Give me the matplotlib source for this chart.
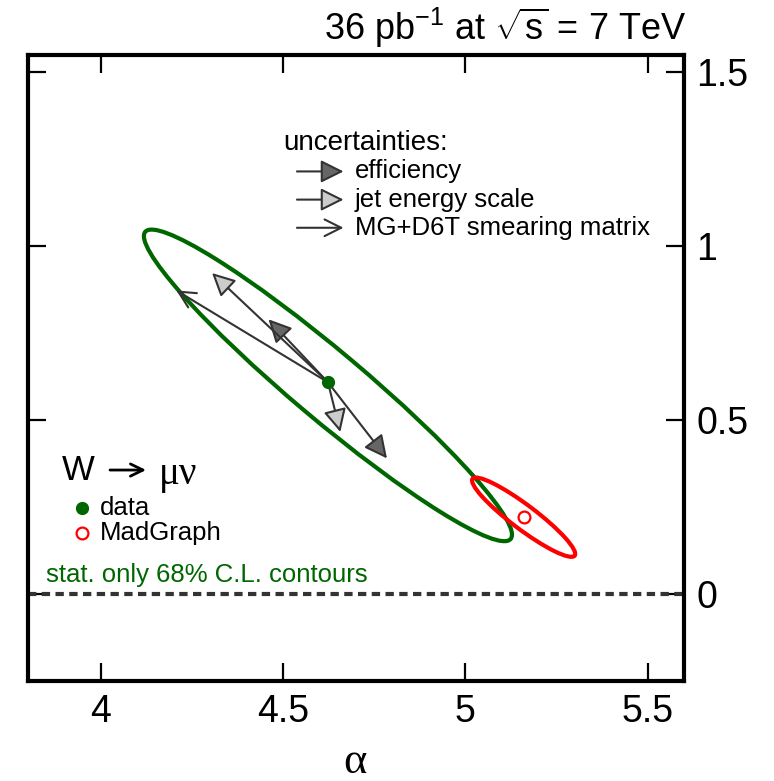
import numpy as np
import matplotlib
matplotlib.use("Agg")
import matplotlib.pyplot as plt
from matplotlib.patches import Ellipse

plt.rcParams['font.family'] = ['Liberation Sans', 'DejaVu Sans']
plt.rcParams['mathtext.fontset'] = 'custom'
plt.rcParams['mathtext.rm'] = 'Liberation Sans'
plt.rcParams['mathtext.it'] = 'Liberation Sans:italic'

# --- values ---
data_point = (4.623, 0.609)
madgraph_point = (5.160, 0.222)

# contour: centre x, centre y, x half-extent, y half-extent, correlation
green_contour = (4.623, 0.600, 0.505, 0.448, -0.958)
red_contour = (5.160, 0.221, 0.1415, 0.114, -0.925)

# systematic shifts (arrow tips) starting from the data point
eff_tips = [(4.460, 0.790), (4.785, 0.390)]
jes_tips = [(4.305, 0.923), (4.657, 0.466)]
mg_tips = [(4.207, 0.873)]

x_ticks = [4, 4.5, 5, 5.5]
y_ticks = [0, 0.5, 1, 1.5]

LINE = '#333333'
DARK = '#666666'
LIGHT = '#cccccc'
GREEN = '#006600'
RED = '#ff0000'


def contour_patch(pars, color):
    cx, cy, sx, sy, rho = pars
    cov = np.array([[sx * sx, rho * sx * sy], [rho * sx * sy, sy * sy]])
    vals, vecs = np.linalg.eigh(cov)
    angle = np.degrees(np.arctan2(vecs[1, 1], vecs[0, 1]))
    return Ellipse((cx, cy), 2 * np.sqrt(vals[1]), 2 * np.sqrt(vals[0]),
                   angle=angle, fill=False, ec=color, lw=3.0, zorder=3)


fig = plt.figure(figsize=(7.74, 7.81), dpi=100)
ax = fig.add_axes([28 / 774, 1 - 681 / 781, 656 / 774, 626 / 781])
ax.set_xlim(3.8, 5.6)
ax.set_ylim(-0.25, 1.55)

ax.add_patch(contour_patch(green_contour, GREEN))
ax.add_patch(contour_patch(red_contour, RED))

ax.axhline(0, color=LINE, lw=3.0, dashes=(2.0, 1.3), zorder=2)

head = 'head_length=0.7,head_width=0.35'
for tip in eff_tips:
    ax.annotate('', xy=tip, xytext=data_point,
                arrowprops=dict(arrowstyle='-|>,' + head, fc=DARK, ec=LINE, lw=1.5,
                                shrinkA=0, shrinkB=0, mutation_scale=20), zorder=4)
for tip in jes_tips:
    ax.annotate('', xy=tip, xytext=data_point,
                arrowprops=dict(arrowstyle='-|>,' + head, fc=LIGHT, ec=LINE, lw=1.5,
                                shrinkA=0, shrinkB=0, mutation_scale=20), zorder=4)
for tip in mg_tips:
    ax.annotate('', xy=tip, xytext=data_point,
                arrowprops=dict(arrowstyle='->,head_length=0.6,head_width=0.3', ec=LINE,
                                lw=1.5, shrinkA=0, shrinkB=0, mutation_scale=20), zorder=4)

ax.plot(*data_point, 'o', color=GREEN, ms=8.5, zorder=5)
ax.plot(*madgraph_point, 'o', mfc='white', mec=RED, mew=1.6, ms=8.5, zorder=5)

# legend for the uncertainty arrows (axes fraction)
ax.text(0.389, 0.859, 'uncertainties:', transform=ax.transAxes, fontsize=20,
        va='center', ha='left')
rows = [0.814, 0.769, 0.724]
labels = ['efficiency', 'jet energy scale', 'MG+D6T smearing matrix']
styles = [('-|>,' + head, DARK), ('-|>,' + head, LIGHT),
          ('->,head_length=0.6,head_width=0.3', 'none')]
for yy, lab, (st, fc) in zip(rows, labels, styles):
    ax.annotate('', xy=(0.481, yy), xytext=(0.410, yy), xycoords='axes fraction',
                arrowprops=dict(arrowstyle=st, fc=fc, ec=LINE, lw=1.5,
                                shrinkA=0, shrinkB=0, mutation_scale=20))
    ax.text(0.498, yy, lab, transform=ax.transAxes, fontsize=18.5,
            va='center', ha='left')

# process legend: W -> mu nu
ax.text(0.052, 0.337, 'W', transform=ax.transAxes, fontsize=25,
        va='center', ha='left')
ax.annotate('', xy=(0.180, 0.337), xytext=(0.125, 0.337), xycoords='axes fraction',
            arrowprops=dict(arrowstyle='->,head_length=0.45,head_width=0.22',
                            color='black', lw=2.0, shrinkA=0, shrinkB=0,
                            mutation_scale=20))
ax.text(0.200, 0.330, '\u03bc\u03bd', transform=ax.transAxes, fontsize=28,
        va='center', ha='left', family='Liberation Serif')
ax.plot([0.083], [0.277], 'o', color=GREEN, ms=8.5, transform=ax.transAxes)
ax.plot([0.083], [0.237], 'o', mfc='white', mec=RED, mew=1.6, ms=8.5,
        transform=ax.transAxes)
ax.text(0.110, 0.277, 'data', transform=ax.transAxes, fontsize=18.5, va='center')
ax.text(0.110, 0.237, 'MadGraph', transform=ax.transAxes, fontsize=18.5, va='center')
ax.text(0.027, 0.170, 'stat. only 68% C.L. contours', transform=ax.transAxes,
        fontsize=18.5, va='center', color=GREEN)

# axes styling
for sp in ax.spines.values():
    sp.set_linewidth(3.0)
ax.set_xticks(x_ticks)
ax.set_xticklabels(['4', '4.5', '5', '5.5'])
ax.set_yticks(y_ticks)
ax.set_yticklabels(['0', '0.5', '1', '1.5'])
ax.tick_params(direction='in', length=13, width=1.6, top=True, right=True,
               left=True, bottom=True, labelleft=False, labelright=True,
               labelsize=27, pad=9)

fig.text(686 / 774, 1 - 40 / 781, r'36 pb$^{\mathrm{-1}}$ at $\sqrt{\mathrm{s}}$ = 7 TeV',
         ha='right', va='baseline', fontsize=26)
fig.text(355 / 774, 1 - 762 / 781, '\u03b1', ha='center', va='center',
         fontsize=32, family='Liberation Serif')

fig.savefig('out.png', dpi=100)
